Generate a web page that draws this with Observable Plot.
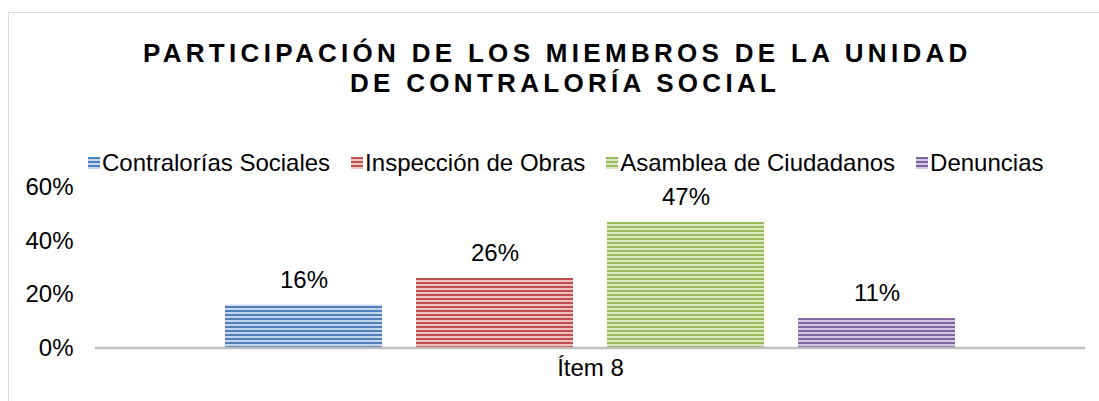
<!DOCTYPE html>
<html>
<head>
<meta charset="utf-8">
<script src="https://cdn.jsdelivr.net/npm/d3@7"></script>
<script src="https://cdn.jsdelivr.net/npm/@observablehq/plot@0.6"></script>
<style>
  html, body { margin: 0; padding: 0; background: #fff; overflow: hidden; }
  body { width: 1099px; height: 401px; position: relative; font-family: "Liberation Sans", Arial, sans-serif; color: #000; }
  #frame { position: absolute; left: 8px; top: 12px; width: 1200px; height: 500px; border: 1px solid #d9d9d9; box-sizing: border-box; }
  .tline { position: absolute; white-space: nowrap; font-weight: bold; font-size: 26px; line-height: 30px; letter-spacing: 4.3px; }
  #t1 { left: 143px; top: 37.5px; }
  #t2 { left: 350px; top: 68px; }
  #legend { position: absolute; left: 88px; top: 148px; display: flex; font-size: 24px; line-height: 30px; white-space: nowrap; }
  .item { display: flex; align-items: center; margin-right: 21px; }
  .item svg { width: 12px; height: 12px; margin-right: 2px; }
  #chart { position: absolute; left: 0; top: 170px; }
</style>
</head>
<body>
<div id="frame"></div>
<div id="t1" class="tline">PARTICIPACIÓN DE LOS MIEMBROS DE LA UNIDAD</div>
<div id="t2" class="tline">DE CONTRALORÍA SOCIAL</div>
<div id="legend"></div>
<div id="chart"></div>
<svg width="0" height="0" style="position:absolute">
  <defs id="pdefs"></defs>
</svg>
<script>
const group = "Ítem 8";
const series = ["Contralorías Sociales", "Inspección de Obras", "Asamblea de Ciudadanos", "Denuncias"];
const values = [0.16, 0.26, 0.47, 0.11];
const yTicks = [0, 0.2, 0.4, 0.6];

const darkColors = ["#4f81bd", "#c0504d", "#9bbb59", "#8064a2"];
const lightColors = ["#c5d6ec", "#eec4c3", "#dbe8c4", "#d2c7e0"];

// stripe patterns
const defs = document.getElementById("pdefs");
series.forEach((s, i) => {
  defs.insertAdjacentHTML("beforeend",
    `<pattern id="stripe${i}" patternUnits="userSpaceOnUse" width="8" height="4">
       <rect width="8" height="4" fill="${lightColors[i]}"/>
       <rect y="0" width="8" height="2" fill="${darkColors[i]}"/>
     </pattern>`);
});

// legend
const legend = document.getElementById("legend");
series.forEach((s, i) => {
  const el = document.createElement("div");
  el.className = "item";
  el.innerHTML = `<svg viewBox="0 0 12 12"><rect width="12" height="12" fill="url(#stripe${i})"/></svg><span>${s}</span>`;
  legend.appendChild(el);
});

const data = series.map((s, i) => ({series: s, value: values[i], fill: `url(#stripe${i})`}));

const chart = Plot.plot({
  width: 1099,
  height: 231,
  marginLeft: 95,
  marginRight: 14,
  marginTop: 17,
  marginBottom: 53.5,
  style: {fontFamily: "'Liberation Sans', Arial, sans-serif", fontSize: "24px", color: "#000", background: "transparent", overflow: "visible"},
  x: {domain: series, range: [224, 956], paddingInner: 0.178, paddingOuter: 0, axis: null},
  y: {domain: [0, 0.6], ticks: yTicks, tickFormat: d3.format(".0%"), tickSize: 0, tickPadding: 22, label: null},
  color: {type: "identity"},
  marks: [
    Plot.barY(data, {x: "series", y: "value", fill: "fill"}),
    Plot.ruleY([0], {stroke: "#bfbfbf", strokeWidth: 2.5}),
    Plot.text(data, {x: "series", y: "value", text: d => d3.format(".0%")(d.value), dy: -25, fontSize: 24, fill: "#000"}),
    Plot.text([group], {frameAnchor: "bottom", text: d => d, dy: 28, fontSize: 24, fill: "#000"})
  ]
});
document.getElementById("chart").appendChild(chart);
</script>
</body>
</html>
